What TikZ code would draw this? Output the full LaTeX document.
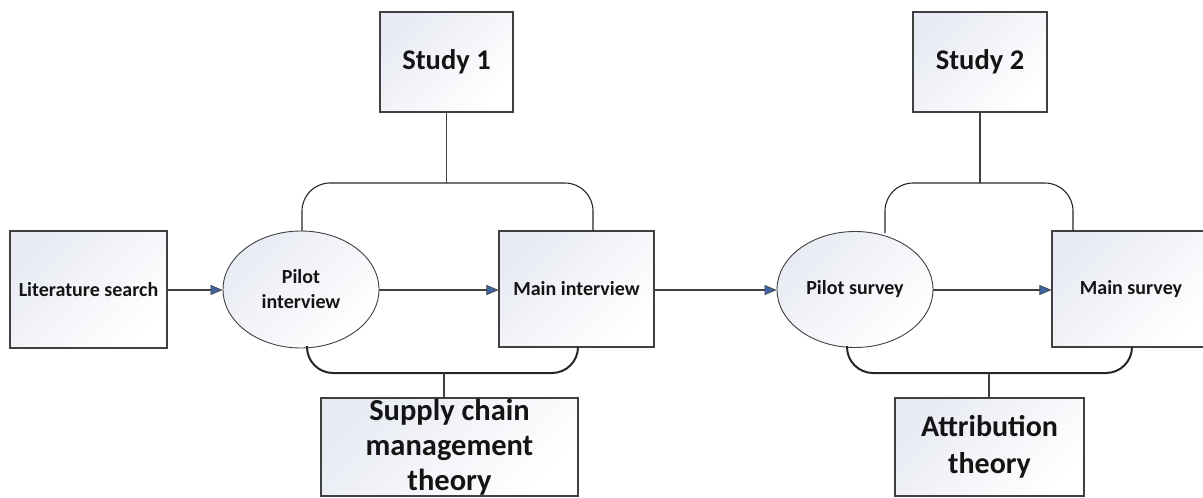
\documentclass[tikz,border=0pt]{standalone}
\usepackage{fontspec}
\setmainfont{Carlito}
\usetikzlibrary{shapes.geometric,arrows.meta}
\definecolor{linegray}{HTML}{404040}
\definecolor{tint}{HTML}{E8EBF3}
\definecolor{headblue}{HTML}{3F64A0}
\definecolor{ink}{HTML}{141414}
\tikzset{
  shadedfill/.style={top color=tint, bottom color=white, shading angle=45},
  stagebox/.style={draw=linegray, line width=1.1pt, shadedfill, rectangle,
    inner sep=0pt, align=center, text=ink, font=\bfseries},
  stageoval/.style={draw=linegray, line width=0.9pt, shadedfill, ellipse,
    inner sep=0pt, align=center, text=ink, font=\bfseries},
  flow/.style={draw=linegray, line width=1.1pt,
    -{Triangle[length=12pt,width=10pt,fill=headblue,line width=0.6pt]}},
  link/.style={draw=linegray, line width=1.1pt},
  bracetop/.style={draw=black!85, line width=1.1pt, rounded corners=28pt},
  bracebottom/.style={draw=black!85, line width=2pt, rounded corners=26pt},
  steptext/.style={font=\bfseries\fontsize{20}{25}\selectfont},
  headtext/.style={font=\bfseries\fontsize{28.5}{30}\selectfont},
  theorytext/.style={font=\bfseries\fontsize{30.5}{35}\selectfont},
}
\begin{document}
\begin{tikzpicture}[x=1pt,y=-1pt]
\useasboundingbox (0,0) rectangle (1203,498);

% process chain
\node[stagebox, minimum width=157pt, minimum height=117pt, steptext] (lit) at (88.5,289.5) {Literature search};
\node[stageoval, minimum width=156pt, minimum height=117pt, steptext] (pint) at (301,289.5) {Pilot\\interview};
\node[stagebox, minimum width=155pt, minimum height=116pt, steptext] (mint) at (576.5,289) {Main interview};
\node[stageoval, minimum width=156pt, minimum height=116pt, steptext] (psur) at (855,289.5) {Pilot survey};
\node[stagebox, minimum width=158pt, minimum height=116pt, steptext] (msur) at (1131,289) {Main survey};

\draw[flow] (lit.east |- 0,290) coordinate (a1) -- (a1 -| pint.west);
\draw[flow] (pint.east |- 0,290) coordinate (a2) -- (a2 -| mint.west);
\draw[flow] (mint.east |- 0,290) coordinate (a3) -- (a3 -| psur.west);
\draw[flow] (psur.east |- 0,290) coordinate (a4) -- (a4 -| msur.west);

% studies above
\node[stagebox, minimum width=133pt, minimum height=100pt, headtext] (s1) at (446.5,62) {Study 1};
\node[stagebox, minimum width=134pt, minimum height=100pt, headtext] (s2) at (980,62) {Study 2};

% theories below
\node[stagebox, minimum width=257pt, minimum height=98pt, theorytext] (t1) at (449.5,447) {Supply chain\\management\\theory};
\node[stagebox, minimum width=189pt, minimum height=98pt, theorytext,
  font=\bfseries\fontsize{30}{37}\selectfont] (t2) at (989.5,447) {Attribution\\theory};

% brackets grouping each study
\coordinate (b1top) at (446.5,183);
\coordinate (b2top) at (980,183);
\coordinate (b1bot) at (444,373);
\coordinate (b2bot) at (989,373);

\draw[bracetop] (302,231) |- (593,183) -- (593,231);
\draw[bracetop] (885,233) |- (1073,183) -- (1073,231);
\draw[bracebottom] (307,346) |- (578,373) -- (578,347);
\draw[bracebottom] (847,346) |- (1132,373) -- (1132,347);

\draw[link] (s1.south) -- (b1top);
\draw[link] (s2.south) -- (b2top);
\draw[link, line width=1.6pt] (b1bot) -- (b1bot |- t1.north);
\draw[link, line width=1.6pt] (b2bot) -- (b2bot |- t2.north);
\end{tikzpicture}
\end{document}
